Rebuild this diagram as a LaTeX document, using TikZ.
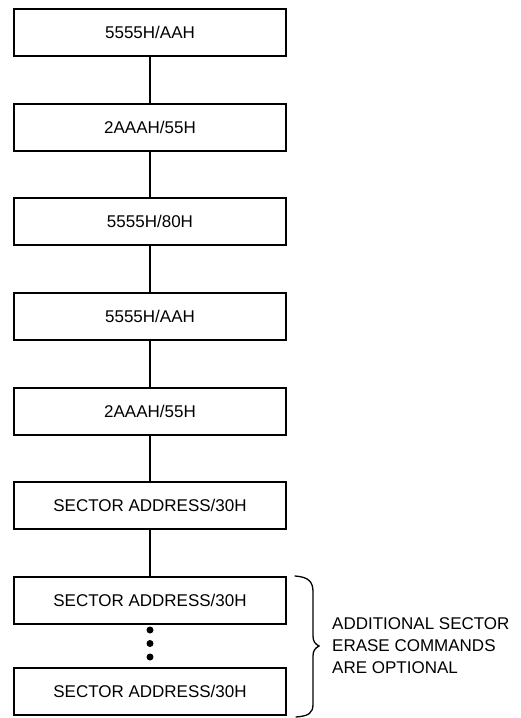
\documentclass[tikz,border=0pt]{standalone}
\usepackage{fontspec}
\setmainfont{Liberation Sans}
\begin{document}
\begin{tikzpicture}[x=1pt,y=-1pt,
  cmdbox/.style={draw, line width=2.2pt, minimum width=272pt, minimum height=47pt, inner sep=0pt, font=\fontsize{17}{20}\selectfont},
  link/.style={line width=2pt},
  dotmark/.style={fill, circle, inner sep=0pt, minimum size=7pt},
  note/.style={align=left, anchor=west, inner sep=0pt, font=\fontsize{17}{22}\selectfont}]
\useasboundingbox (0,0) rectangle (521,718);
\node[cmdbox] (b1) at (150,32.5) {5555H/AAH};
\node[cmdbox] (b2) at (150,127.5) {2AAAH/55H};
\node[cmdbox] (b3) at (150,221.5) {5555H/80H};
\node[cmdbox] (b4) at (150,316.5) {5555H/AAH};
\node[cmdbox] (b5) at (150,411.5) {2AAAH/55H};
\node[cmdbox] (b6) at (150,505.5) {SECTOR ADDRESS/30H};
\node[cmdbox] (b7) at (150,600.5) {SECTOR ADDRESS/30H};
\node[cmdbox] (b8) at (150,691.5) {SECTOR ADDRESS/30H};
\draw[link] (b1.south) -- (b2.north);
\draw[link] (b2.south) -- (b3.north);
\draw[link] (b3.south) -- (b4.north);
\draw[link] (b4.south) -- (b5.north);
\draw[link] (b5.south) -- (b6.north);
\draw[link] (b6.south) -- (b7.north);
\node[dotmark] (d1) at (150,630) {};
\node[dotmark] (d2) at (150,643.5) {};
\node[dotmark] (d3) at (150,657) {};
\draw[line width=1.3pt, line cap=round]
  (295,576) .. controls (309,577) and (313,582) .. (313,592)
  -- (313,636) .. controls (313,641) and (315,644) .. (319,646)
  .. controls (315,648) and (313,651) .. (313,656)
  -- (313,704) .. controls (313,713) and (309,716) .. (296,717);
\node[note] (txt) at (332,646) {ADDITIONAL SECTOR\\ERASE COMMANDS\\ARE OPTIONAL};
\end{tikzpicture}
\end{document}
